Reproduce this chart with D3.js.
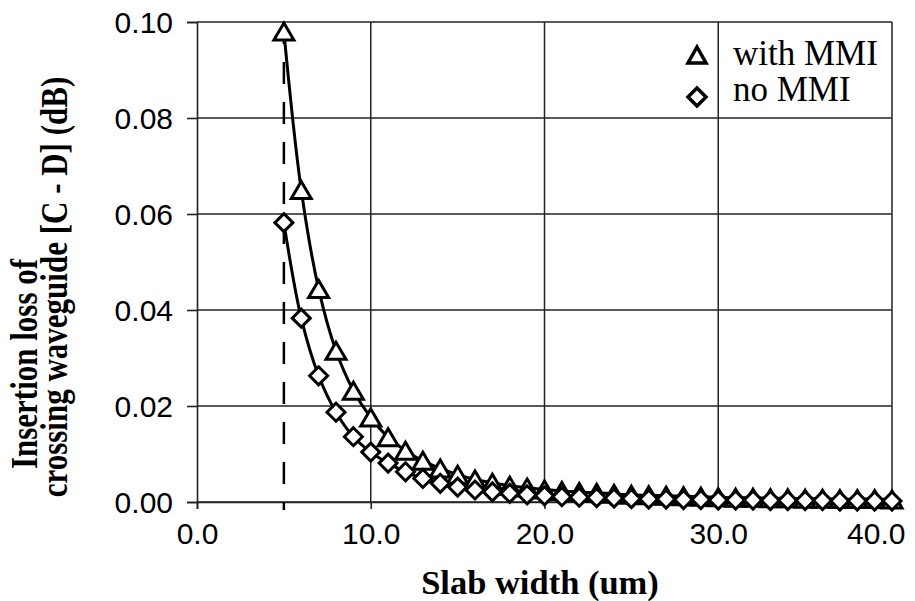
<!DOCTYPE html>
<html>
<head>
<meta charset="utf-8">
<script src="https://cdn.jsdelivr.net/npm/d3@7"></script>
<style>
  html, body { margin: 0; padding: 0; background: #fff; }
  svg { display: block; }
</style>
</head>
<body>
<svg id="chart" width="915" height="601"></svg>
<script>
// ---- data ----
const slabWidth = [5,6,7,8,9,10,11,12,13,14,15,16,17,18,19,20,21,22,23,24,25,26,27,28,29,30,31,32,33,34,35,36,37,38,39,40];
const withMMI = [0.098,0.065,0.0444,0.0315,0.0232,0.0176,0.0135,0.0107,0.0086,0.0070,0.0057,0.0047,0.0040,0.0034,0.0030,0.0026,0.0023,0.0021,0.0019,0.0017,0.0015,0.0014,0.0013,0.0012,0.0011,0.0010,0.0009,0.0009,0.0008,0.0008,0.0007,0.0007,0.0006,0.0006,0.0006,0.0005];
const noMMI = [0.0582,0.0383,0.0263,0.0187,0.0136,0.0104,0.0081,0.0063,0.0049,0.0039,0.0031,0.0025,0.0021,0.0018,0.0015,0.0013,0.0011,0.0010,0.0009,0.0008,0.0007,0.0006,0.0006,0.0005,0.0005,0.0004,0.0004,0.0004,0.0003,0.0003,0.0003,0.0003,0.0002,0.0002,0.0002,0.0002];
const xTicks = [0,10,20,30,40];
const yTicks = [0,0.02,0.04,0.06,0.08,0.10];
const seriesNames = ["with MMI","no MMI"];
const cutoffX = 5;

// ---- layout ----
const L = 197, R = 892, T = 22, B = 502;
const svg = d3.select("#chart");
const x = d3.scaleLinear().domain([0,40]).range([L,R]);
const y = d3.scaleLinear().domain([0,0.10]).range([B,T]);

// grid
const grid = svg.append("g");
grid.selectAll("line.h").data(yTicks).join("line")
  .attr("x1", L).attr("x2", R)
  .attr("y1", d => y(d)).attr("y2", d => y(d))
  .attr("stroke", "#222").attr("stroke-width", 1.5);
grid.selectAll("line.v").data(xTicks.filter(d => d > 0)).join("line")
  .attr("x1", d => x(d)).attr("x2", d => x(d))
  .attr("y1", T).attr("y2", B)
  .attr("stroke", "#222").attr("stroke-width", 1.5);

// axes
const xAxis = d3.axisBottom(x).tickValues(xTicks).tickSize(7).tickPadding(14)
  .tickFormat(d3.format(".1f"));
const yAxis = d3.axisLeft(y).tickValues(yTicks).tickSize(10).tickPadding(14)
  .tickFormat(d3.format(".2f"));
const gx = svg.append("g").attr("transform", `translate(0,${B})`).call(xAxis);
const gy = svg.append("g").attr("transform", `translate(${L},0)`).call(yAxis);
[gx, gy].forEach(g => {
  g.select(".domain").attr("stroke", "#222").attr("stroke-width", 1.6);
  g.selectAll(".tick line").attr("stroke", "#222").attr("stroke-width", 1.6);
  g.selectAll(".tick text").attr("fill", "#000")
    .style("font-family", "'Liberation Sans', Arial, sans-serif")
    .style("font-size", "30px");
});
gy.selectAll(".tick text").attr("dy", "0.36em");
// keep the last x label inside the picture
gx.selectAll(".tick text").filter(d => d === 40)
  .attr("text-anchor", "end").attr("x", 905 - x(40));

// dashed cutoff line
svg.append("line")
  .attr("x1", x(cutoffX)).attr("x2", x(cutoffX))
  .attr("y1", y(0.10)).attr("y2", B + 8)
  .attr("stroke", "#000").attr("stroke-width", 2.5)
  .attr("stroke-dasharray", "22,18");

// series
const triPath = (w, h) => `M0,${-h/2}L${w/2},${h/2}L${-w/2},${h/2}Z`;
const diaPath = (r) => `M0,${-r}L${r},0L0,${r}L${-r},0Z`;
const series = [
  {name: seriesNames[0], vals: withMMI, shape: triPath(20, 17)},
  {name: seriesNames[1], vals: noMMI, shape: diaPath(9)}
];
const line = d3.line().curve(d3.curveCatmullRom.alpha(0.5))
  .x(d => x(d[0])).y(d => y(d[1]));

series.forEach(s => {
  const pts = slabWidth.map((w, i) => [w, s.vals[i]]);
  const g = svg.append("g");
  g.append("path").attr("d", line(pts))
    .attr("fill", "none").attr("stroke", "#000").attr("stroke-width", 3);
  g.selectAll("path.m").data(pts).join("path")
    .attr("class", "m")
    .attr("d", s.shape)
    .attr("transform", d => `translate(${x(d[0])},${y(d[1])})`)
    .attr("fill", "#fff").attr("stroke", "#000").attr("stroke-width", 3)
    .attr("stroke-linejoin", "miter");
});

// legend
const lg = svg.append("g");
series.forEach((s, i) => {
  const cy = i === 0 ? 55 : 97;
  lg.append("path").attr("d", i === 0 ? triPath(18, 16) : diaPath(9))
    .attr("transform", `translate(697,${cy})`)
    .attr("fill", "#fff").attr("stroke", "#000").attr("stroke-width", 3.5);
  lg.append("text").attr("x", 733).attr("y", i === 0 ? 65 : 101)
    .text(s.name)
    .style("font-family", "'Liberation Serif', 'Times New Roman', serif")
    .style("font-size", "35px").attr("fill", "#000");
});

// axis titles
svg.append("text")
  .attr("x", 540).attr("y", 594)
  .attr("text-anchor", "middle")
  .style("font-family", "'Liberation Serif', 'Times New Roman', serif")
  .style("font-size", "34.5px").style("font-weight", "bold")
  .text("Slab width (um)");

// y title: rotated, glyphs stretched as in the reference
const sy = 1.2;
const yt = svg.append("text")
  .attr("transform", `rotate(-90) scale(1,${sy})`)
  .attr("text-anchor", "middle")
  .style("font-family", "'Liberation Serif', 'Times New Roman', serif")
  .style("font-size", "31px").style("font-weight", "bold");
yt.append("tspan").attr("x", -364).attr("y", 37 / sy).text("Insertion loss of");
yt.append("tspan").attr("x", -287).attr("y", 67 / sy).text("crossing waveguide [C - D] (dB)");
</script>
</body>
</html>
